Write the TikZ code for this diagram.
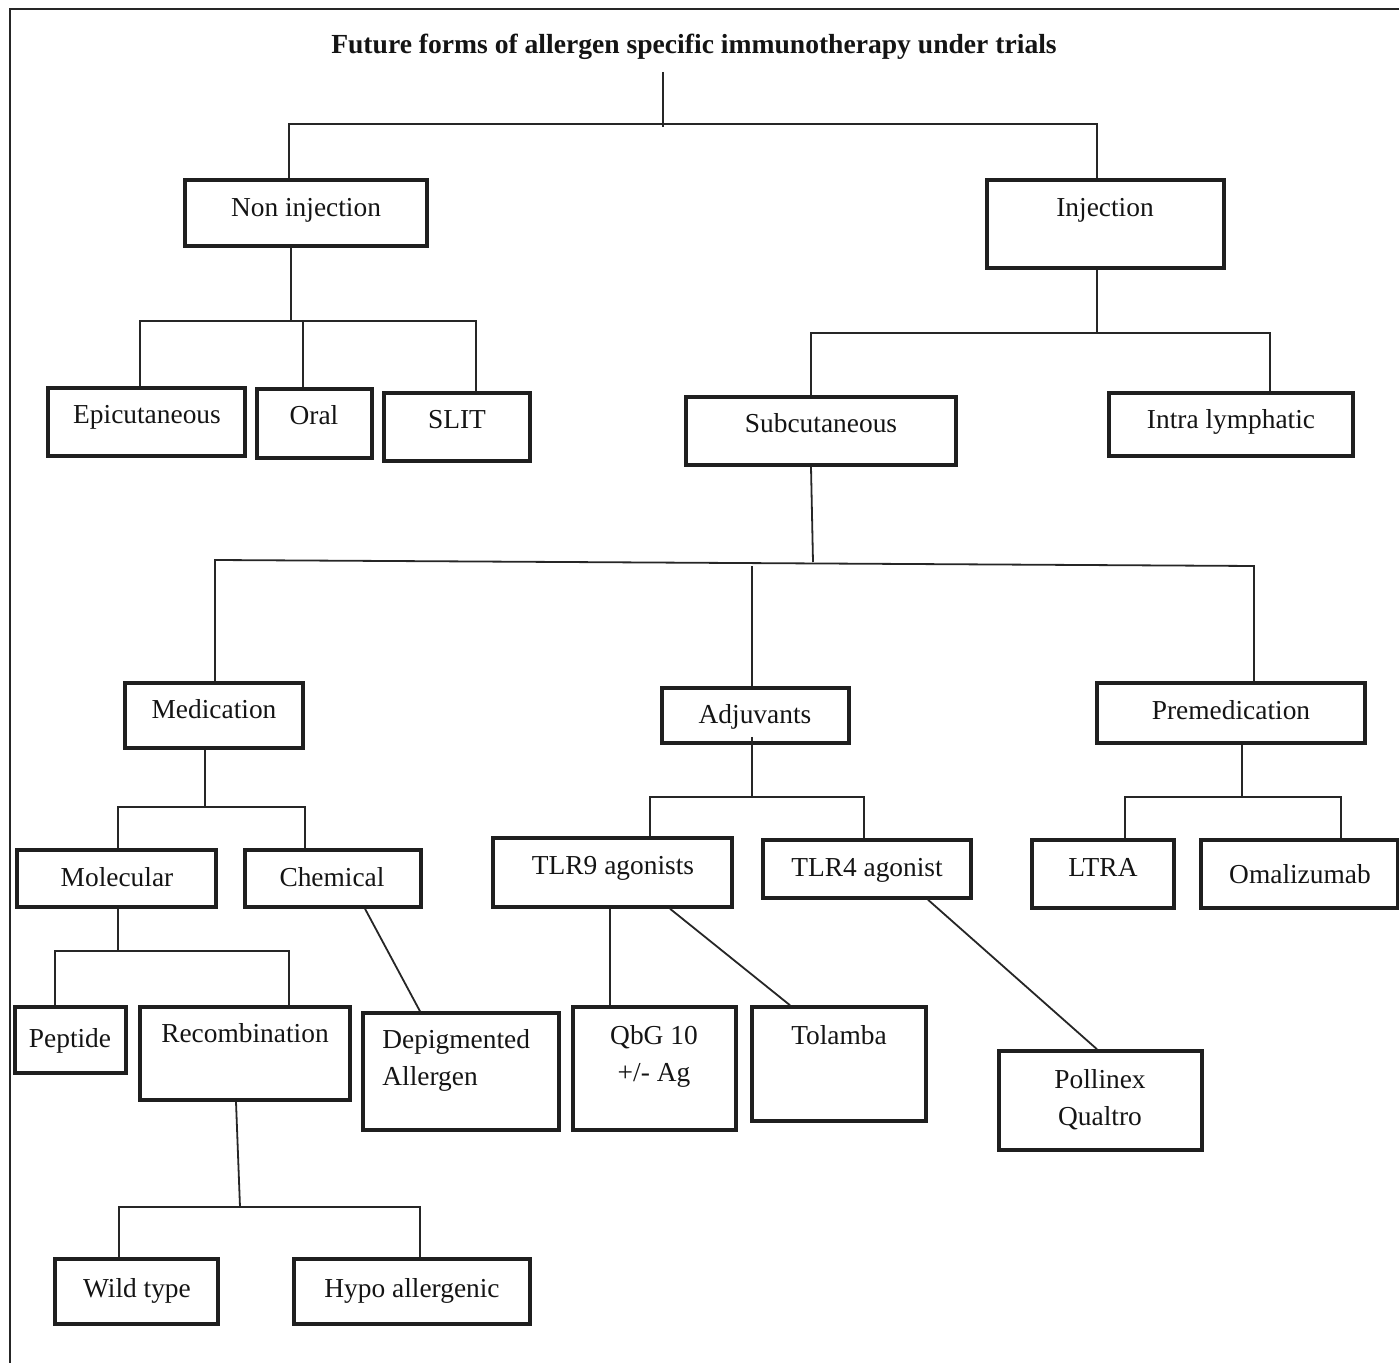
\documentclass[tikz,border=0pt]{standalone}
\usepackage{fontspec}
\setmainfont{Liberation Serif}
\usetikzlibrary{fit}
\begin{document}
\begin{tikzpicture}[x=0.5pt,y=-0.5pt,
  box/.style={draw=black!88, line width=1.75pt, inner sep=0pt, rectangle},
  wire/.style={draw=black!85, line width=0.9pt},
  frame/.style={draw=black!85, line width=1.4pt},
  lbl/.style={font=\fontsize{13.7}{18.5}\selectfont, inner sep=0pt, anchor=base, text=black!92},
  two/.style={lbl, align=center, anchor=north},
  ttl/.style={font=\bfseries\fontsize{13.8}{16}\selectfont, inner sep=0pt, anchor=base, text=black!92}
]
\newcommand\tbox[5]{\node[box, fit={(#2,#3) (#4,#5)}] (#1) {};}
\useasboundingbox (0,0) rectangle (1399,1363);

% outer frame (top and left edges only)
\draw[frame] (1399,9) -- (10,9) -- (10,1363);

% title
\node[ttl] (title) at (694,54) {Future forms of allergen specific immunotherapy under trials};

% boxes
\tbox{nonInj}{185}{180}{427}{246}
\tbox{inj}{987}{180}{1224}{268}
\tbox{epi}{48}{388}{245}{456}
\tbox{oral}{257}{389}{372}{458}
\tbox{slit}{384}{393}{530}{461}
\tbox{subc}{686}{397}{956}{465}
\tbox{intra}{1109}{393}{1353}{456}
\tbox{med}{125}{683}{303}{748}
\tbox{adj}{662}{688}{849}{743}
\tbox{premed}{1097}{683}{1365}{743}
\tbox{mol}{17}{850}{216}{907}
\tbox{chem}{245}{850}{421}{907}
\tbox{pep}{15}{1007}{126}{1073}
\tbox{recomb}{140}{1007}{350}{1100}
\tbox{depig}{363}{1013}{559}{1130}
\tbox{wild}{55}{1259}{218}{1324}
\tbox{hypo}{294}{1259}{530}{1324}
\tbox{tlrnine}{493}{838}{732}{907}
\tbox{tlrfour}{763}{840}{971}{898}
\tbox{qbg}{573}{1007}{736}{1130}
\tbox{tolamba}{752}{1007}{926}{1121}
\tbox{pollinex}{999}{1051}{1202}{1150}
\tbox{ltra}{1032}{840}{1174}{908}
\tbox{omali}{1201}{840}{1398}{908}

% labels
\node[lbl] (nonInjT) at (306,217) {Non injection};
\node[lbl] (injT) at (1105,217) {Injection};
\node[lbl] (epiT) at (147,424) {Epicutaneous};
\node[lbl] (oralT) at (314,425) {Oral};
\node[lbl] (slitT) at (457,429) {SLIT};
\node[lbl] (subcT) at (821,433) {Subcutaneous};
\node[lbl] (intraT) at (1231,429) {Intra lymphatic};
\node[lbl] (medT) at (214,719) {Medication};
\node[lbl] (adjT) at (755,724) {Adjuvants};
\node[lbl] (premedT) at (1231,720) {Premedication};
\node[lbl] (molT) at (117,887) {Molecular};
\node[lbl] (chemT) at (332,887) {Chemical};
\node[lbl] (pepT) at (70,1047) {Peptide};
\node[lbl] (recombT) at (245,1043) {Recombination};
\node[two, align=left, anchor=north west] (depigT) at (382,1029) {Depigmented\\Allergen};
\node[lbl] (wildT) at (137,1297) {Wild type};
\node[lbl] (hypoT) at (412,1297) {Hypo allergenic};
\node[lbl] (tlrnineT) at (613,875) {TLR9 agonists};
\node[lbl] (tlrfourT) at (867,877) {TLR4 agonist};
\node[two] (qbgT) at (654,1025) {QbG 10\\+/- Ag};
\node[lbl] (tolambaT) at (839,1044) {Tolamba};
\node[two] (pollinexT) at (1100,1069) {Pollinex\\Qualtro};
\node[lbl] (ltraT) at (1103,877) {LTRA};
\node[lbl] (omaliT) at (1300,884) {Omalizumab};

% title -> first level
\coordinate (rootTop) at (663,72);
\draw[wire] (rootTop) -- (663,127);
\draw[wire] (nonInj.north -| 289,0) -- (289,124) -- (1097,124) -- (inj.north -| 1097,0);

% non injection branch
\draw[wire] (nonInj.south -| 291,0) -- (291,321);
\draw[wire] (epi.north -| 140,0) -- (140,321) -- (476,321) -- (slit.north -| 476,0);
\draw[wire] (oral.north -| 303,0) -- (303,321);

% injection branch
\draw[wire] (inj.south -| 1097,0) -- (1097,333);
\draw[wire] (subc.north -| 811,0) -- (811,333) -- (1270,333) -- (intra.north -| 1270,0);

% subcutaneous branch
\draw[wire] (subc.south -| 811,0) -- (813,562);
\draw[wire] (med.north -| 215,0) -- (215,560) -- (1254,566) -- (premed.north -| 1254,0);
\draw[wire] (752,566) -- (adj.north -| 752,0);

% medication branch
\draw[wire] (med.south -| 205,0) -- (205,807);
\draw[wire] (mol.north -| 118,0) -- (118,807) -- (305,807) -- (chem.north -| 305,0);
\draw[wire] (mol.south -| 118,0) -- (118,951);
\draw[wire] (pep.north -| 55,0) -- (55,951) -- (289,951) -- (recomb.north -| 289,0);
\draw[wire] (chem.south -| 365,0) -- (depig.north -| 420,0);
\draw[wire] (recomb.south -| 236,0) -- (240,1207);
\draw[wire] (wild.north -| 119,0) -- (119,1207) -- (420,1207) -- (hypo.north -| 420,0);

% adjuvants branch
\draw[wire] (752,737) -- (752,797);
\draw[wire] (tlrnine.north -| 650,0) -- (650,797) -- (864,797) -- (tlrfour.north -| 864,0);
\draw[wire] (tlrnine.south -| 610,0) -- (qbg.north -| 610,0);
\draw[wire] (tlrnine.south -| 670,0) -- (tolamba.north -| 790,0);
\draw[wire] (tlrfour.south -| 928,0) -- (pollinex.north -| 1097,0);

% premedication branch
\draw[wire] (premed.south -| 1242,0) -- (1242,797);
\draw[wire] (ltra.north -| 1125,0) -- (1125,797) -- (1341,797) -- (omali.north -| 1341,0);
\end{tikzpicture}
\end{document}
